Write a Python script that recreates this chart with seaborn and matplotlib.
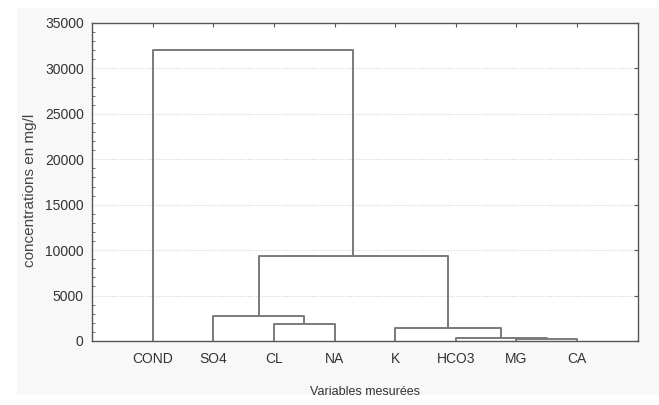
import matplotlib
matplotlib.use("Agg")
import matplotlib.pyplot as plt
from matplotlib.patches import Rectangle
from matplotlib.ticker import MultipleLocator
import seaborn as sns

# ---- data ----
leaves = ["COND", "SO4", "CL", "NA", "K", "HCO3", "MG", "CA"]
merge_a = ["MG", "HCO3", "CL", "K", "SO4", "C5", "COND"]
merge_b = ["CA", "C1", "NA", "C2", "C3", "C4", "C6"]
merge_h = [200, 350, 1850, 1400, 2750, 9400, 32000]
y_ticks = [0, 5000, 10000, 15000, 20000, 25000, 30000, 35000]

sns.set_style("white")
plt.rcParams["font.family"] = ["Liberation Sans", "DejaVu Sans"]

fig = plt.figure(figsize=(6.59, 4.05), dpi=100, facecolor="white")
fig.patches.append(Rectangle((17 / 659, 1 - 395 / 405), 1 - 17 / 659, (395 - 8) / 405,
                             transform=fig.transFigure, facecolor="#f8f8f8",
                             edgecolor="none", zorder=-10))
ax = fig.add_axes([92 / 659, 1 - 341 / 405, (637.7 - 92) / 659, (341 - 23) / 405])
ax.set_facecolor("white")

pos = {name: i + 1 for i, name in enumerate(leaves)}
hgt = {name: 0.0 for name in leaves}
line_col = "#7a7a7a"
for k, (a, b, h) in enumerate(zip(merge_a, merge_b, merge_h)):
    xa, xb = pos[a], pos[b]
    sns.lineplot(x=[xa, xa, xb, xb], y=[hgt[a], h, h, hgt[b]], ax=ax,
                 color=line_col, lw=1.4, sort=False, estimator=None, zorder=3)
    name = f"C{k + 1}"
    pos[name] = (xa + xb) / 2
    hgt[name] = h

ax.set_xlim(0, 9)
ax.set_ylim(0, 35000)
ax.set_xticks(range(1, len(leaves) + 1))
ax.set_xticklabels(leaves)
ax.set_yticks(y_ticks)
ax.set_yticklabels([str(v) for v in y_ticks])
ax.yaxis.set_minor_locator(MultipleLocator(1000))

ax.grid(axis="y", which="major", color="#d4d4d4", linestyle=(0, (1, 1.5)), lw=0.8, zorder=0)
ax.grid(axis="x", visible=False)

for s in ax.spines.values():
    s.set_color("#555555")
    s.set_linewidth(1.0)
    s.set_visible(True)

ax.tick_params(axis="both", which="major", direction="in", length=3, width=0.8,
               color="#555555", top=True, right=True, labelsize=10,
               labelcolor="#333333", pad=6)
ax.tick_params(axis="y", which="minor", direction="in", length=2, width=0.6,
               color="#555555", left=True, right=False)
ax.tick_params(axis="x", pad=8)

ax.set_xlabel("Variables mesurées", fontsize=9, color="#333333", labelpad=14)
ax.set_ylabel("concentrations en mg/l", fontsize=11, color="#444444")
ax.yaxis.set_label_coords(-0.101, 0.475)

fig.savefig("out.png", dpi=100, facecolor=fig.get_facecolor())
